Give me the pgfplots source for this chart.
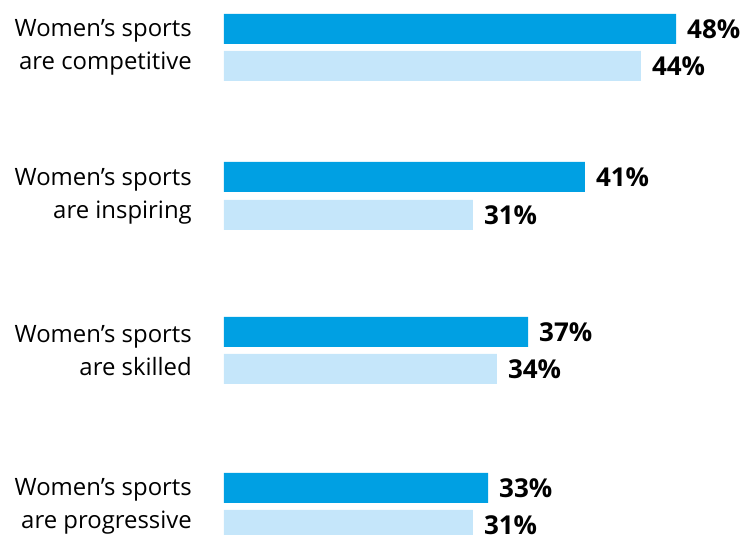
\documentclass[border=0pt]{standalone}
\usepackage{pgfplots}
\pgfplotsset{compat=1.18}
\usepackage{fontspec}
\setmainfont{Open Sans}
\definecolor{darkbar}{RGB}{0,160,227}
\definecolor{lightbar}{RGB}{197,230,250}
\begin{document}
\begin{tikzpicture}
\useasboundingbox (-224pt,0pt) rectangle (531pt,535pt);
\begin{axis}[
  at={(0pt,0pt)}, anchor=south west,
  scale only axis, width=531pt, height=535pt,
  xmin=0, xmax=66.375, ymin=0, ymax=535,
  axis line style={draw=none},
  major tick length=0pt,
  xtick=\empty,
  ytick={28.5,184.5,339,487.5},
  yticklabels={{Women’s sports\\are progressive},{Women’s sports\\are skilled},{Women’s sports\\are inspiring},{Women’s sports\\are competitive}},
  yticklabel style={font=\fontsize{23.9}{33}\selectfont, align=right, anchor=east, inner sep=0pt, xshift=-32pt},
  xbar, bar width=30,
  point meta=explicit symbolic,
  nodes near coords={\pgfplotspointmeta\%},
  nodes near coords style={font=\fontsize{26}{26}\selectfont\bfseries, anchor=west, inner sep=0pt, xshift=11pt},
]
% bar lengths as drawn in the chart, labels as printed
\addplot[fill=darkbar, draw=none, bar shift=0] coordinates {(56.5,506) [48] (45.1,358) [41] (38,203) [37] (33,47) [33]};
\addplot[fill=lightbar, draw=none, bar shift=0] coordinates {(52.1,469) [44] (31.1,320) [31] (34.1,166) [34] (31.1,10) [31]};
\end{axis}
\end{tikzpicture}
\end{document}
